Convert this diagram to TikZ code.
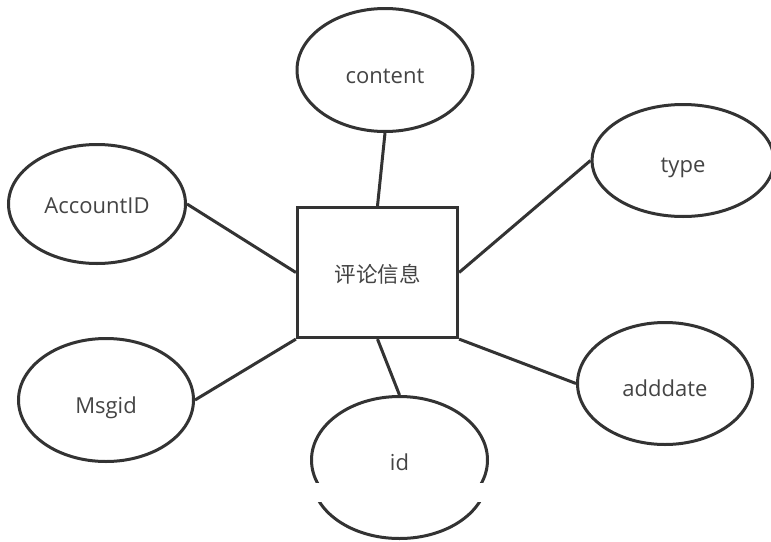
\documentclass[tikz,border=0pt]{standalone}
\usepackage{fontspec}
\setmainfont{Open Sans}
\newfontfamily\cjk{Noto Sans CJK SC}
\usetikzlibrary{shapes.geometric}
\definecolor{linec}{HTML}{333333}
\definecolor{txtc}{HTML}{444444}
\begin{document}
\begin{tikzpicture}[x=1pt,y=-1pt,
  attr/.style={ellipse, draw=linec, line width=3pt, inner sep=0pt, text=txtc, text depth=0pt, font=\fontsize{22}{26}\selectfont},
  entity/.style={rectangle, draw=linec, line width=3.2pt, inner sep=0pt, text=txtc, text height=22pt, text depth=2pt, minimum width=160pt, minimum height=130pt, font=\cjk\fontsize{21.5}{26}\selectfont},
  conn/.style={draw=linec, line width=3pt}]
\useasboundingbox (0,0) rectangle (771,541);
\fill[white] (0,0) rectangle (771,541);
\node[entity] (e) at (377.5,272.5) {评论信息};
\node[attr, minimum width=176pt, minimum height=123pt, text height=26pt] (content) at (385,70) {content};
\node[attr, minimum width=182pt, minimum height=112pt, text height=23pt] (type) at (683,160.5) {type};
\node[attr, minimum width=177pt, minimum height=119pt, text height=18pt] (acc) at (97,204) {AccountID};
\node[attr, minimum width=175pt, minimum height=123pt, text height=26pt] (msg) at (106,400) {Msgid};
\node[attr, minimum width=175pt, minimum height=122pt, text height=25pt] (add) at (665,383.5) {adddate};
\node[attr, minimum width=176pt, minimum height=127pt, text height=20pt] (id) at (399.5,460) {id};
\fill[white] (300,483) rectangle (500,541);
\begin{scope}
  \clip (300,502) rectangle (500,541);
  \draw[linec, line width=3pt] (399.5,477) ellipse [x radius=87.5pt, y radius=61.5pt];
\end{scope}
\draw[conn] (e.north) -- (content.south);
\draw[conn] (e.east) -- (type.west);
\draw[conn] (e.west) -- (acc.east);
\draw[conn] (e.south west) -- (msg.east);
\draw[conn] (e.south east) -- (add.west);
\draw[conn] (e.south) -- (id.north);
\end{tikzpicture}
\end{document}
